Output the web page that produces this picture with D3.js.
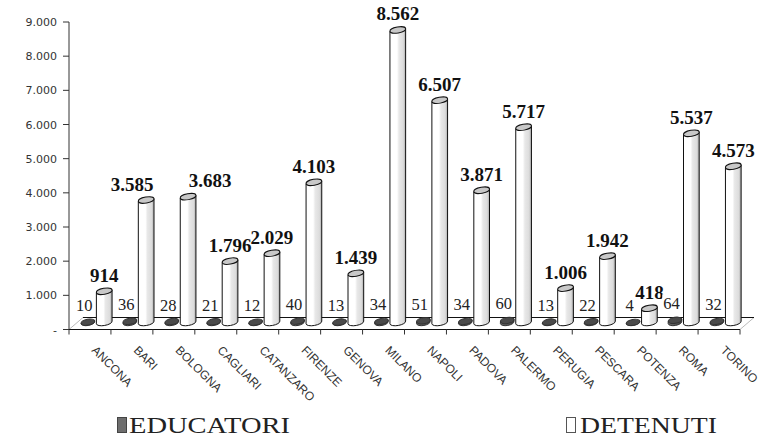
<!DOCTYPE html>
<html>
<head>
<meta charset="utf-8">
<script src="https://cdn.jsdelivr.net/npm/d3@7/dist/d3.min.js"></script>
<style>
  html, body { margin: 0; padding: 0; background: #fff; }
  #chart { width: 763px; height: 437px; }
</style>
</head>
<body>
<div id="chart"></div>
<script>
const cities = ["ANCONA", "BARI", "BOLOGNA", "CAGLIARI", "CATANZARO", "FIRENZE", "GENOVA", "MILANO",
  "NAPOLI", "PADOVA", "PALERMO", "PERUGIA", "PESCARA", "POTENZA", "ROMA", "TORINO"];
const educatori = [10, 36, 28, 21, 12, 40, 13, 34, 51, 34, 60, 13, 22, 4, 64, 32];
const detenuti = [914, 3585, 3683, 1796, 2029, 4103, 1439, 8562, 6507, 3871, 5717, 1006, 1942, 418, 5537, 4573];
const yTicks = [0, 1000, 2000, 3000, 4000, 5000, 6000, 7000, 8000, 9000];

const W = 763, H = 437;
const plotLeft = 69, plotRight = 740, plotTop = 22, plotBottom = 329.5;
const depthX = 14, depthY = 12;   // floor depth offset
const midY = 7;                   // bars sit half way into the floor

const it = d3.formatLocale({ decimal: ",", thousands: ".", grouping: [3], currency: ["€", ""] });
const fmt = it.format(",");

const x = d3.scaleBand().domain(cities).range([plotLeft, plotRight]).padding(0);
const y = d3.scaleLinear().domain([0, 9000]).range([plotBottom, plotTop]);
const bw = x.bandwidth();

const svg = d3.select("#chart").append("svg")
  .attr("width", W).attr("height", H);

const defs = svg.append("defs");
const grad = defs.append("linearGradient").attr("id", "cyl").attr("x1", 0).attr("x2", 1).attr("y1", 0).attr("y2", 0);
[[0, "#ffffff"], [0.45, "#ffffff"], [0.58, "#e8e8e8"], [0.85, "#dcdcdc"], [1, "#a8a8a8"]]
  .forEach(s => grad.append("stop").attr("offset", s[0]).attr("stop-color", s[1]));
const gradD = defs.append("linearGradient").attr("id", "cylD").attr("x1", 0).attr("x2", 1).attr("y1", 0).attr("y2", 0);
[[0, "#6a6a6a"], [0.6, "#555555"], [1, "#3a3a3a"]]
  .forEach(s => gradD.append("stop").attr("offset", s[0]).attr("stop-color", s[1]));

// floor
svg.append("line").attr("x1", plotLeft).attr("y1", plotBottom).attr("x2", plotLeft + depthX).attr("y2", plotBottom - depthY)
  .attr("stroke", "#bbb");
svg.append("line").attr("x1", plotRight).attr("y1", plotBottom).attr("x2", plotRight + depthX).attr("y2", plotBottom - depthY)
  .attr("stroke", "#bbb");
svg.append("line").attr("x1", plotLeft + depthX).attr("y1", plotBottom - depthY).attr("x2", plotRight + depthX).attr("y2", plotBottom - depthY)
  .attr("stroke", "#111");

// y axis
const yAxis = svg.append("g");
yAxis.append("line").attr("x1", plotLeft).attr("x2", plotLeft).attr("y1", plotTop).attr("y2", plotBottom).attr("stroke", "#333");
yAxis.selectAll("line.tick").data(yTicks).join("line").attr("class", "tick")
  .attr("x1", plotLeft - 6).attr("x2", plotLeft).attr("y1", d => y(d)).attr("y2", d => y(d)).attr("stroke", "#333");
yAxis.selectAll("text").data(yTicks).join("text")
  .attr("x", 57).attr("y", d => y(d) + 4)
  .attr("text-anchor", "end")
  .attr("font-family", "DejaVu Sans, sans-serif").attr("font-size", 11).attr("fill", "#333")
  .text(d => d === 0 ? "-" : fmt(d));

// x axis
svg.append("line").attr("x1", plotLeft).attr("x2", plotRight).attr("y1", plotBottom).attr("y2", plotBottom).attr("stroke", "#111");
const edges = cities.map(c => x(c)).concat([plotRight]);
svg.selectAll("line.xt").data(edges).join("line").attr("class", "xt")
  .attr("x1", d => d).attr("x2", d => d).attr("y1", plotBottom).attr("y2", plotBottom + 5).attr("stroke", "#333");
svg.selectAll("text.xl").data(cities).join("text").attr("class", "xl")
  .attr("transform", d => `translate(${x(d) + bw / 2 + 1},351) rotate(45)`)
  .attr("font-family", "Liberation Sans, sans-serif").attr("font-size", 12).attr("fill", "#333")
  .text(d => d);

// cylinders
const ry = 3, tilt = 10;
function cylinder(g, cx, r, yTop, yBase, fill, topFill, stroke) {
  const a = tilt * Math.PI / 180;
  const dx = r * Math.cos(a), dy = r * Math.sin(a);
  g.append("path")
    .attr("d", `M${cx - dx},${yTop + dy} L${cx - dx},${yBase + dy} A${r},${ry} ${-tilt} 0 0 ${cx + dx},${yBase - dy} L${cx + dx},${yTop - dy} Z`)
    .attr("fill", fill).attr("stroke", stroke).attr("stroke-width", 1);
  g.append("ellipse").attr("cx", cx).attr("cy", yTop).attr("rx", r).attr("ry", ry)
    .attr("transform", `rotate(${-tilt},${cx},${yTop})`)
    .attr("fill", topFill).attr("stroke", stroke).attr("stroke-width", 1);
}

const bars = svg.append("g");
const labels = svg.append("g");
const valueLabels = [];
cities.forEach((c, i) => {
  const ex = x(c) + bw * 0.45, dxC = x(c) + bw * 0.84;
  const base = y(0) - midY;
  const eTop = y(educatori[i]) - midY;
  const dTop = y(detenuti[i]) - midY;
  cylinder(bars, ex, bw * 0.165, eTop, base, "url(#cylD)", "#4a4a4a", "#333");
  cylinder(bars, dxC, bw * 0.19, dTop, base, "url(#cyl)", "#c8c8c8", "#111");

  // educatori label with white box
  const lg = labels.append("g");
  const t = lg.append("text")
    .attr("x", ex - 3.5).attr("y", eTop - 11)
    .attr("text-anchor", "middle")
    .attr("font-family", "Liberation Serif, serif").attr("font-size", 16.5).attr("fill", "#222")
    .text(fmt(educatori[i]));
  const bb = t.node().getBBox();
  lg.insert("rect", "text").attr("x", bb.x - 1).attr("y", bb.y).attr("width", bb.width + 2).attr("height", bb.height)
    .attr("fill", "#fff");

  const vt = labels.append("text")
    .attr("x", dxC).attr("y", dTop - 9.5)
    .attr("text-anchor", "middle")
    .attr("font-family", "Liberation Serif, serif").attr("font-weight", "bold").attr("font-size", 19).attr("fill", "#111")
    .text(fmt(detenuti[i]));
  valueLabels.push({ node: vt, cx: dxC, y: dTop - 9.5 });
});

// pull apart value labels that collide with a neighbour at the same height
for (let i = 0; i < valueLabels.length - 1; i++) {
  const a = valueLabels[i], b = valueLabels[i + 1];
  const wa = a.node.node().getComputedTextLength(), wb = b.node.node().getComputedTextLength();
  const gap = (b.cx - wb / 2) - (a.cx + wa / 2);
  if (gap < 4 && Math.abs(a.y - b.y) < 5) {
    a.cx -= 14; b.cx += 22;
    a.node.attr("x", a.cx); b.node.attr("x", b.cx);
  }
}

// legend
const legend = svg.append("g");
legend.append("rect").attr("x", 117.5).attr("y", 417.5).attr("width", 9).attr("height", 15)
  .attr("fill", "#6e6e6e").attr("stroke", "#444");
legend.append("text").attr("x", 129).attr("y", 433)
  .attr("font-family", "Liberation Serif, serif").attr("font-size", 24).attr("fill", "#222")
  .attr("textLength", 161).attr("lengthAdjust", "spacingAndGlyphs")
  .text("EDUCATORI");
legend.append("rect").attr("x", 566.5).attr("y", 417.5).attr("width", 9).attr("height", 15)
  .attr("fill", "#fff").attr("stroke", "#555");
legend.append("text").attr("x", 580).attr("y", 433)
  .attr("font-family", "Liberation Serif, serif").attr("font-size", 24).attr("fill", "#222")
  .attr("textLength", 137).attr("lengthAdjust", "spacingAndGlyphs")
  .text("DETENUTI");
</script>
</body>
</html>
